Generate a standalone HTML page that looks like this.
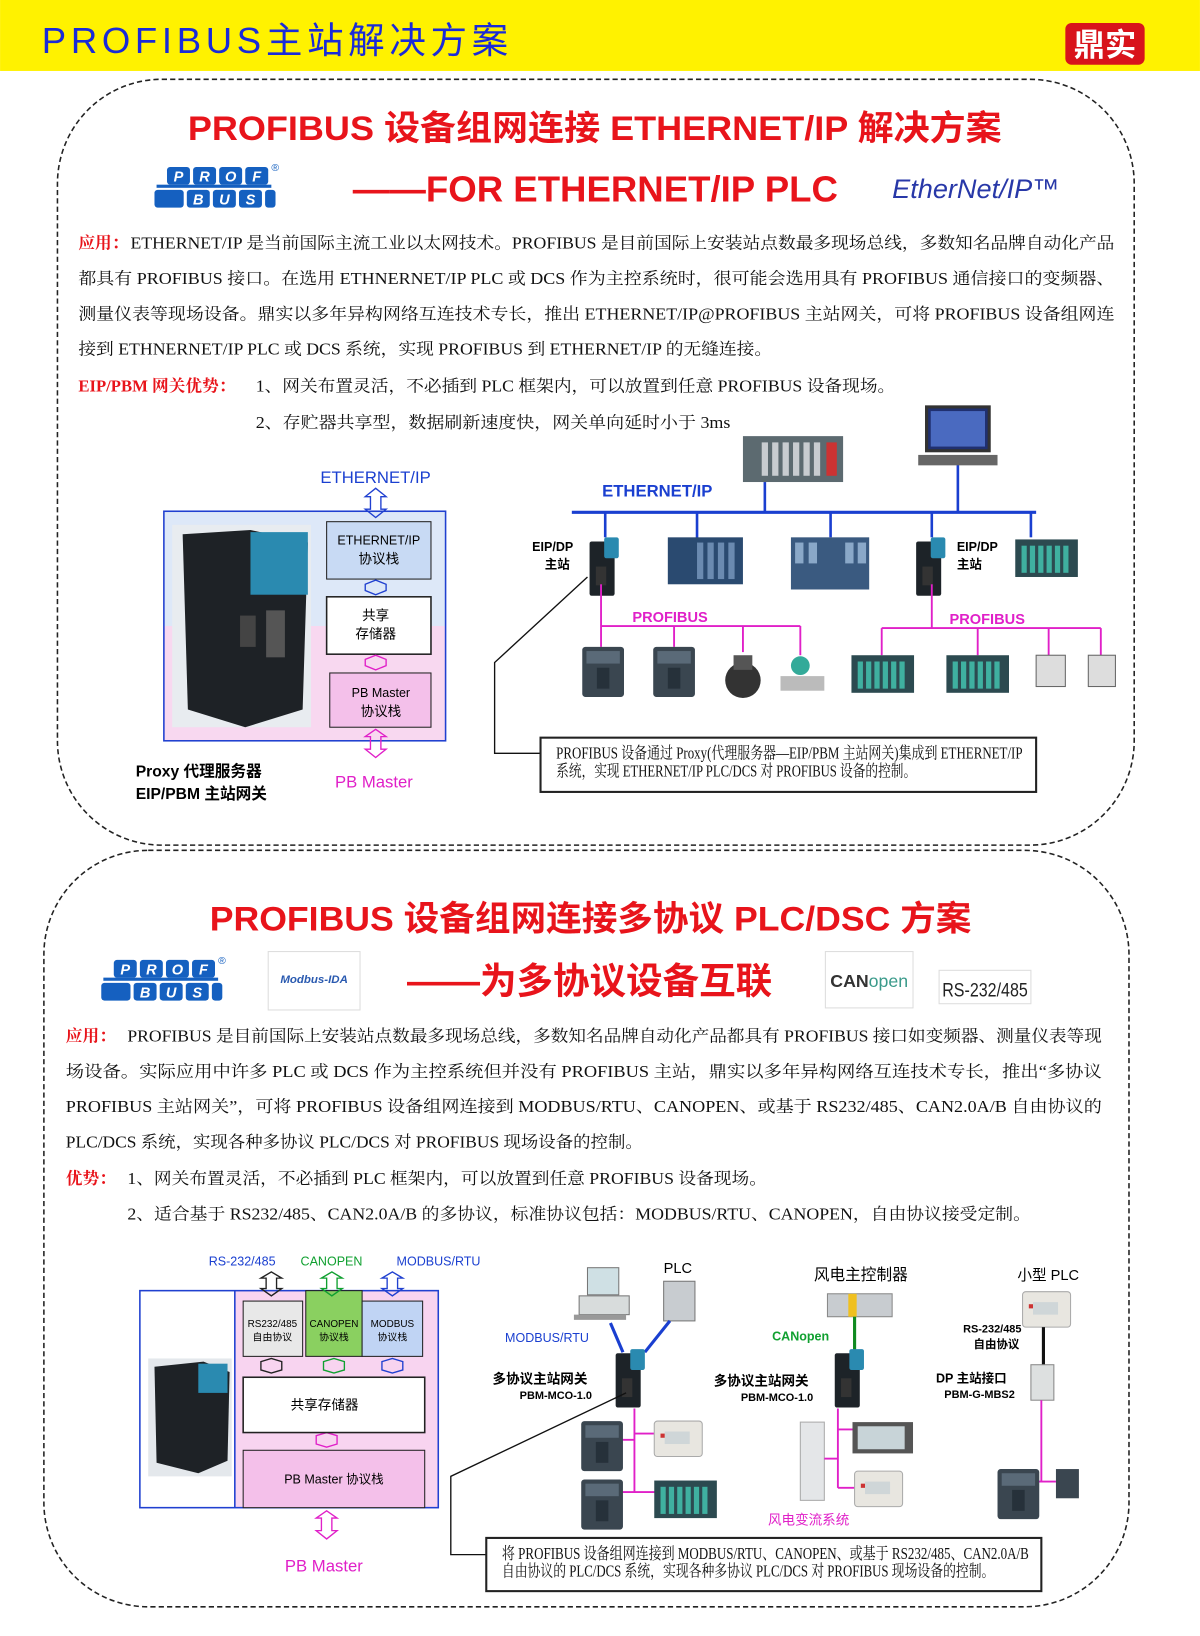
<!DOCTYPE html>
<html><head><meta charset="utf-8"><style>
html,body{margin:0;padding:0;background:#fff;width:1200px;height:1636px;overflow:hidden}
svg{display:block}
text{font-family:"Liberation Sans","Noto Sans CJK SC",sans-serif}
.s{font-family:"Liberation Serif","Noto Serif CJK SC",serif;font-size:16px;fill:#111}
.r{fill:#e8141b}
.b{fill:#1a3fd0}
.m{fill:#e020c8}
</style></head><body>
<svg width="1200" height="1636" viewBox="0 0 1150 1568" xmlns="http://www.w3.org/2000/svg">
<defs>
<g id="pb">
 <g fill="#1560c0">
  <rect x="12" y="4" width="22" height="17" rx="3"/><rect x="37" y="4" width="22" height="17" rx="3"/><rect x="62" y="4" width="22" height="17" rx="3"/><rect x="87" y="4" width="22" height="17" rx="3"/>
  <rect x="0" y="26" width="28" height="17" rx="3"/><rect x="31" y="26" width="22" height="17" rx="3"/><rect x="56" y="26" width="22" height="17" rx="3"/><rect x="81" y="26" width="22" height="17" rx="3"/><rect x="106" y="26" width="10" height="17" rx="3"/>
  <rect x="2" y="21" width="110" height="3"/>
 </g>
 <text x="23" y="18" fill="#fff" font-size="14" font-weight="bold" font-style="italic" text-anchor="middle">P</text>
 <text x="48" y="18" fill="#fff" font-size="14" font-weight="bold" font-style="italic" text-anchor="middle">R</text>
 <text x="73" y="18" fill="#fff" font-size="14" font-weight="bold" font-style="italic" text-anchor="middle">O</text>
 <text x="98" y="18" fill="#fff" font-size="14" font-weight="bold" font-style="italic" text-anchor="middle">F</text>
 <text x="42" y="40" fill="#fff" font-size="14" font-weight="bold" font-style="italic" text-anchor="middle">B</text>
 <text x="67" y="40" fill="#fff" font-size="14" font-weight="bold" font-style="italic" text-anchor="middle">U</text>
 <text x="92" y="40" fill="#fff" font-size="14" font-weight="bold" font-style="italic" text-anchor="middle">S</text>
 <text x="112" y="8" fill="#1560c0" font-size="10">®</text>
</g>
<g id="drv"><rect x="0" y="0" width="40" height="48" rx="3" fill="#3a4650"/><rect x="4" y="4" width="32" height="12" fill="#5a6a78"/><rect x="14" y="20" width="12" height="20" fill="#26313a"/></g>
<g id="rack"><rect x="0" y="0" width="60" height="36" fill="#2c4a50"/><g fill="#3fb0a0"><rect x="6" y="6" width="5" height="26"/><rect x="14" y="6" width="5" height="26"/><rect x="22" y="6" width="5" height="26"/><rect x="30" y="6" width="5" height="26"/><rect x="38" y="6" width="5" height="26"/><rect x="46" y="6" width="5" height="26"/></g></g>
<g id="gw"><rect x="0" y="4" width="24" height="52" rx="2" fill="#1d2328"/><rect x="14" y="0" width="14" height="20" rx="2" fill="#2a8ab0"/><rect x="6" y="28" width="10" height="18" fill="#333"/></g>
<g id="sp"><rect x="0" y="0" width="46" height="34" rx="3" fill="#e8e6e0" stroke="#aaa"/><rect x="10" y="10" width="24" height="12" fill="#cfd6d8"/><rect x="6" y="12" width="4" height="4" fill="#c33"/></g>
</defs>

<rect x="0" y="0" width="1150" height="68" fill="#fff200"/>
<text x="40" y="51" font-size="35" fill="#1a2bd8" textLength="447" lengthAdjust="spacing">PROFIBUS主站解决方案</text>
<rect x="1021" y="22" width="76" height="40" rx="6" fill="#d8141b"/>
<text x="1059" y="53" font-size="30" font-weight="bold" fill="#fff" text-anchor="middle">鼎实</text>

<rect x="55" y="76" width="1032" height="734" rx="100" fill="none" stroke="#222" stroke-width="1.5" stroke-dasharray="5,3"/>
<text x="180" y="134" font-size="33" font-weight="bold" class="r" textLength="780" lengthAdjust="spacingAndGlyphs">PROFIBUS 设备组网连接 ETHERNET/IP 解决方案</text>
<use href="#pb" x="148" y="156"/>
<text x="338" y="193" font-size="35" font-weight="bold" class="r" textLength="465" lengthAdjust="spacingAndGlyphs">——FOR ETHERNET/IP PLC</text>
<text x="855" y="190" font-size="26" font-style="italic" fill="#2838a8">EtherNet/IP™</text>

<text x="75" y="238" class="s"><tspan class="r" font-weight="bold">应用：</tspan></text>
<text x="125" y="238" class="s" textLength="943" lengthAdjust="spacingAndGlyphs">ETHERNET/IP 是当前国际主流工业以太网技术。PROFIBUS 是目前国际上安装站点数最多现场总线，多数知名品牌自动化产品</text>
<text x="75" y="272" class="s" textLength="993" lengthAdjust="spacingAndGlyphs">都具有 PROFIBUS 接口。在选用 ETHNERNET/IP PLC 或 DCS 作为主控系统时，很可能会选用具有 PROFIBUS 通信接口的变频器、</text>
<text x="75" y="306" class="s" textLength="993" lengthAdjust="spacingAndGlyphs">测量仪表等现场设备。鼎实以多年异构网络互连技术专长，推出 ETHERNET/IP@PROFIBUS 主站网关，可将 PROFIBUS 设备组网连</text>
<text x="75" y="340" class="s" textLength="665" lengthAdjust="spacingAndGlyphs">接到 ETHNERNET/IP PLC 或 DCS 系统，实现 PROFIBUS 到 ETHERNET/IP 的无缝连接。</text>
<text x="75" y="375" class="s r" font-weight="bold">EIP/PBM 网关优势：</text>
<text x="245" y="375" class="s" textLength="613" lengthAdjust="spacingAndGlyphs">1、网关布置灵活，不必插到 PLC 框架内，可以放置到任意 PROFIBUS 设备现场。</text>
<text x="245" y="410" class="s" textLength="455" lengthAdjust="spacingAndGlyphs">2、存贮器共享型，数据刷新速度快，网关单向延时小于 3ms</text>

<text x="307" y="463" font-size="16" class="b">ETHERNET/IP</text>
<rect x="157" y="490" width="270" height="110" fill="#dde8f8"/>
<rect x="157" y="600" width="270" height="110" fill="#f8d8f0"/>
<rect x="157" y="490" width="270" height="220" fill="none" stroke="#2040d0" stroke-width="1.5"/>
<rect x="165" y="503" width="133" height="194" fill="#e8ecf0"/>
<path d="M175 512 L240 508 L295 520 L290 680 L235 697 L180 680 Z" fill="#1e2226"/>
<rect x="240" y="510" width="55" height="60" fill="#2a8ab0"/>
<rect x="230" y="590" width="15" height="30" fill="#444"/><rect x="255" y="585" width="18" height="45" fill="#555"/>
<rect x="313" y="500" width="100" height="55" fill="#c8daf4" stroke="#222"/>
<text x="363" y="522" font-size="12" text-anchor="middle">ETHERNET/IP</text>
<text x="363" y="540" font-size="13" text-anchor="middle">协议栈</text>
<rect x="313" y="572" width="100" height="55" fill="#fff" stroke="#222" stroke-width="1.5"/>
<text x="360" y="594" font-size="13" text-anchor="middle">共享</text>
<text x="360" y="612" font-size="13" text-anchor="middle">存储器</text>
<rect x="316" y="645" width="97" height="52" fill="#f4c0ea" stroke="#222"/>
<text x="365" y="668" font-size="12" text-anchor="middle">PB Master</text>
<text x="365" y="686" font-size="13" text-anchor="middle">协议栈</text>
<g fill="none" stroke="#2040d0" stroke-width="1.3">
<path d="M350 476 l10 -8 l10 8 h-5 v12 h5 l-10 8 l-10 -8 h5 v-12z"/>
<path d="M350 560 l10 -4 l10 4 v6 l-10 4 l-10 -4z"/>
</g>
<g fill="none" stroke="#e020c8" stroke-width="1.3">
<path d="M350 632 l10 -4 l10 4 v6 l-10 4 l-10 -4z"/>
<path d="M350 706 l10 -7 l10 7 h-5 v12 h5 l-10 8 l-10 -8 h5 v-12z"/>
</g>
<text x="130" y="744" font-size="15" font-weight="bold">Proxy 代理服务器</text>
<text x="130" y="766" font-size="15" font-weight="bold">EIP/PBM 主站网关</text>
<text x="321" y="755" font-size="16" class="m">PB Master</text>

<text x="577" y="476" font-size="16" font-weight="bold" class="b">ETHERNET/IP</text>
<line x1="548" y1="491" x2="993" y2="491" stroke="#1a3fd0" stroke-width="3"/>
<g stroke="#1a3fd0" stroke-width="2.5"><line x1="580" y1="491" x2="580" y2="515"/><line x1="668" y1="491" x2="668" y2="518"/><line x1="733" y1="462" x2="733" y2="491"/><line x1="796" y1="491" x2="796" y2="515"/><line x1="893" y1="491" x2="893" y2="515"/><line x1="918" y1="440" x2="918" y2="491"/><line x1="988" y1="491" x2="988" y2="515"/></g>
<rect x="712" y="418" width="96" height="44" fill="#5c6a70"/><g fill="#c8ccd0"><rect x="730" y="424" width="6" height="32"/><rect x="740" y="424" width="6" height="32"/><rect x="750" y="424" width="6" height="32"/><rect x="760" y="424" width="6" height="32"/><rect x="770" y="424" width="6" height="32"/><rect x="780" y="424" width="6" height="32"/></g><rect x="792" y="424" width="10" height="32" fill="#c33"/>
<rect x="888" y="390" width="60" height="42" fill="#203070" stroke="#333" stroke-width="3"/><rect x="892" y="394" width="52" height="34" fill="#4a6ac0"/><rect x="880" y="436" width="76" height="10" fill="#666"/>
<use href="#gw" x="565" y="515"/><use href="#gw" x="878" y="515"/>
<text x="510" y="528" font-size="12" font-weight="bold">EIP/DP</text><text x="522" y="545" font-size="12" font-weight="bold">主站</text>
<text x="917" y="528" font-size="12" font-weight="bold">EIP/DP</text><text x="917" y="545" font-size="12" font-weight="bold">主站</text>
<rect x="640" y="515" width="72" height="45" fill="#2a4a70"/><g fill="#6a8ab0"><rect x="668" y="520" width="6" height="35"/><rect x="678" y="520" width="6" height="35"/><rect x="688" y="520" width="6" height="35"/><rect x="698" y="520" width="6" height="35"/></g>
<rect x="758" y="515" width="75" height="50" fill="#3a5a80"/><g fill="#8aa8c8"><rect x="762" y="520" width="8" height="20"/><rect x="775" y="520" width="8" height="20"/><rect x="810" y="520" width="8" height="20"/><rect x="822" y="520" width="8" height="20"/></g>
<use href="#rack" x="973" y="517"/>
<text x="606" y="596" font-size="14" font-weight="bold" class="m">PROFIBUS</text>
<text x="910" y="598" font-size="14" font-weight="bold" class="m">PROFIBUS</text>
<g stroke="#e020c8" stroke-width="1.8" fill="none">
<line x1="576" y1="560" x2="576" y2="620"/><line x1="576" y1="600" x2="767" y2="600"/><line x1="646" y1="600" x2="646" y2="620"/><line x1="712" y1="600" x2="712" y2="625"/><line x1="767" y1="600" x2="767" y2="628"/>
<line x1="893" y1="560" x2="893" y2="602"/><line x1="845" y1="602" x2="1055" y2="602"/><line x1="845" y1="602" x2="845" y2="628"/><line x1="937" y1="602" x2="937" y2="628"/><line x1="1005" y1="602" x2="1005" y2="628"/><line x1="1055" y1="602" x2="1055" y2="628"/>
</g>
<use href="#drv" x="558" y="620"/><use href="#drv" x="626" y="620"/>
<circle cx="712" cy="652" r="17" fill="#333"/><rect x="703" y="628" width="18" height="14" fill="#555"/>
<rect x="748" y="648" width="42" height="14" fill="#bbb"/><circle cx="767" cy="638" r="9" fill="#3a9"/>
<use href="#rack" x="816" y="628"/><use href="#rack" x="907" y="628"/>
<rect x="993" y="628" width="28" height="30" fill="#ddd" stroke="#666"/><rect x="1043" y="628" width="26" height="30" fill="#ddd" stroke="#666"/>
<polyline points="563,553 474,635 474,722 518,722" fill="none" stroke="#111" stroke-width="1.3"/>
<rect x="518" y="707" width="475" height="52" fill="#fff" stroke="#222" stroke-width="2"/>
<text x="533" y="727" class="s" font-size="11.5" textLength="447" lengthAdjust="spacingAndGlyphs">PROFIBUS 设备通过 Proxy(代理服务器—EIP/PBM 主站网关)集成到 ETHERNET/IP</text>
<text x="533" y="744" class="s" font-size="11.5" textLength="345" lengthAdjust="spacingAndGlyphs">系统，实现 ETHERNET/IP PLC/DCS 对 PROFIBUS 设备的控制。</text>

<rect x="42" y="815" width="1040" height="725" rx="100" fill="none" stroke="#222" stroke-width="1.5" stroke-dasharray="5,3"/>
<text x="201" y="892" font-size="33" font-weight="bold" class="r" textLength="730" lengthAdjust="spacingAndGlyphs">PROFIBUS 设备组网连接多协议 PLC/DSC 方案</text>
<use href="#pb" x="97" y="916"/>
<rect x="257" y="912" width="88" height="56" fill="#fff" stroke="#ddd"/>
<text x="301" y="942" font-size="11" font-weight="bold" font-style="italic" fill="#2a5ab0" text-anchor="middle">Modbus-IDA</text>
<text x="390" y="952" font-size="35" font-weight="bold" class="r" textLength="350" lengthAdjust="spacingAndGlyphs">——为多协议设备互联</text>
<rect x="791" y="912" width="84" height="54" fill="#fff" stroke="#ddd"/>
<text x="833" y="946" font-size="17" text-anchor="middle"><tspan font-weight="bold" fill="#333">CAN</tspan><tspan fill="#3a9a8a">open</tspan></text>
<rect x="900" y="930" width="88" height="32" fill="#fff" stroke="#ddd"/>
<text x="944" y="955" font-size="19" text-anchor="middle" fill="#222" textLength="82" lengthAdjust="spacingAndGlyphs">RS-232/485</text>

<text x="63" y="998" class="s r" font-weight="bold">应用：</text>
<text x="122" y="998" class="s" textLength="934" lengthAdjust="spacingAndGlyphs">PROFIBUS 是目前国际上安装站点数最多现场总线，多数知名品牌自动化产品都具有 PROFIBUS 接口如变频器、测量仪表等现</text>
<text x="63" y="1032" class="s" textLength="993" lengthAdjust="spacingAndGlyphs">场设备。实际应用中许多 PLC 或 DCS 作为主控系统但并没有 PROFIBUS 主站，鼎实以多年异构网络互连技术专长，推出“多协议</text>
<text x="63" y="1066" class="s" textLength="993" lengthAdjust="spacingAndGlyphs">PROFIBUS 主站网关”，可将 PROFIBUS 设备组网连接到 MODBUS/RTU、CANOPEN、或基于 RS232/485、CAN2.0A/B 自由协议的</text>
<text x="63" y="1100" class="s" textLength="553" lengthAdjust="spacingAndGlyphs">PLC/DCS 系统，实现各种多协议 PLC/DCS 对 PROFIBUS 现场设备的控制。</text>
<text x="63" y="1135" class="s r" font-weight="bold">优势：</text>
<text x="122" y="1135" class="s" textLength="613" lengthAdjust="spacingAndGlyphs">1、网关布置灵活，不必插到 PLC 框架内，可以放置到任意 PROFIBUS 设备现场。</text>
<text x="122" y="1169" class="s" textLength="866" lengthAdjust="spacingAndGlyphs">2、适合基于 RS232/485、CAN2.0A/B 的多协议，标准协议包括：MODBUS/RTU、CANOPEN，自由协议接受定制。</text>

<text x="200" y="1213" font-size="12" class="b">RS-232/485</text>
<text x="288" y="1213" font-size="12" fill="#10a030">CANOPEN</text>
<text x="380" y="1213" font-size="12" class="b">MODBUS/RTU</text>
<rect x="225" y="1237" width="195" height="208" fill="#f8d4f0"/>
<rect x="134" y="1237" width="286" height="208" fill="none" stroke="#2040d0" stroke-width="1.5"/>
<line x1="225" y1="1237" x2="225" y2="1445" stroke="#2040d0" stroke-width="1.5"/>
<rect x="142" y="1302" width="80" height="113" fill="#e4e8ec"/>
<path d="M148 1310 L195 1305 L220 1315 L218 1400 L190 1412 L150 1402Z" fill="#1e2226"/><rect x="190" y="1307" width="28" height="28" fill="#2a8ab0"/>
<rect x="233" y="1247" width="57" height="53" fill="#e8e8e8" stroke="#222"/>
<rect x="293" y="1237" width="54" height="63" fill="#8ad060" stroke="#222"/>
<rect x="347" y="1247" width="58" height="53" fill="#c0d4f4" stroke="#222"/>
<text x="261" y="1272" font-size="9.5" text-anchor="middle">RS232/485</text><text x="261" y="1285" font-size="9.5" text-anchor="middle">自由协议</text>
<text x="320" y="1272" font-size="9.5" text-anchor="middle">CANOPEN</text><text x="320" y="1285" font-size="9.5" text-anchor="middle">协议栈</text>
<text x="376" y="1272" font-size="9.5" text-anchor="middle">MODBUS</text><text x="376" y="1285" font-size="9.5" text-anchor="middle">协议栈</text>
<g fill="none" stroke-width="1.3">
<path d="M250 1225 l10 -6 l10 6 h-5 v10 h5 l-10 7 l-10 -7 h5 v-10z" stroke="#222"/>
<path d="M308 1225 l10 -6 l10 6 h-5 v10 h5 l-10 7 l-10 -7 h5 v-10z" stroke="#10a030"/>
<path d="M366 1225 l10 -6 l10 6 h-5 v10 h5 l-10 7 l-10 -7 h5 v-10z" stroke="#2040d0"/>
<path d="M250 1305 l10 -3 l10 3 v8 l-10 3 l-10 -3z" stroke="#222"/>
<path d="M310 1305 l10 -3 l10 3 v8 l-10 3 l-10 -3z" stroke="#10a030"/>
<path d="M366 1305 l10 -3 l10 3 v8 l-10 3 l-10 -3z" stroke="#2040d0"/>
<path d="M303 1376 l10 -3 l10 3 v8 l-10 3 l-10 -3z" stroke="#e020c8"/>
<path d="M303 1455 l10 -7 l10 7 h-5 v12 h5 l-10 8 l-10 -8 h5 v-12z" stroke="#e020c8"/>
</g>
<rect x="233" y="1320" width="174" height="53" fill="#fff" stroke="#222" stroke-width="1.5"/>
<text x="311" y="1351" font-size="13" text-anchor="middle">共享存储器</text>
<rect x="233" y="1390" width="174" height="55" fill="#f4c0ea" stroke="#222"/>
<text x="320" y="1422" font-size="12" text-anchor="middle">PB Master 协议栈</text>
<text x="273" y="1506" font-size="16" class="m">PB Master</text>

<rect x="563" y="1215" width="30" height="26" fill="#cfe0e4" stroke="#777"/><rect x="555" y="1242" width="48" height="18" fill="#d8dcdc" stroke="#777"/><rect x="550" y="1260" width="50" height="5" fill="#999"/>
<rect x="636" y="1228" width="30" height="38" fill="#c8ccd0" stroke="#777"/>
<text x="636" y="1220" font-size="14">PLC</text>
<text x="484" y="1286" font-size="12" class="b">MODBUS/RTU</text>
<g stroke="#1a3fd0" stroke-width="3"><line x1="585" y1="1268" x2="597" y2="1296"/><line x1="642" y1="1266" x2="618" y2="1296"/></g>
<use href="#gw" x="590" y="1293"/>
<text x="472" y="1326" font-size="13" font-weight="bold">多协议主站网关</text>
<text x="498" y="1341" font-size="10.5" font-weight="bold">PBM-MCO-1.0</text>
<g stroke="#e020c8" stroke-width="1.8" fill="none"><line x1="608" y1="1350" x2="608" y2="1430"/><line x1="592" y1="1380" x2="608" y2="1380"/><line x1="608" y1="1374" x2="628" y2="1374"/><line x1="592" y1="1430" x2="628" y2="1430"/></g>
<use href="#drv" x="557" y="1362"/><use href="#drv" x="557" y="1418"/>
<use href="#sp" x="627" y="1362"/><use href="#rack" x="627" y="1419"/>
<text x="780" y="1227" font-size="15">风电主控制器</text>
<rect x="793" y="1240" width="62" height="22" fill="#c8ccd0" stroke="#888"/><rect x="813" y="1240" width="8" height="22" fill="#f0c020"/>
<text x="740" y="1285" font-size="12" fill="#10a030" font-weight="bold">CANopen</text>
<line x1="819" y1="1262" x2="819" y2="1295" stroke="#108a20" stroke-width="3"/>
<use href="#gw" x="800" y="1293"/>
<text x="684" y="1328" font-size="13" font-weight="bold">多协议主站网关</text>
<text x="710" y="1343" font-size="10.5" font-weight="bold">PBM-MCO-1.0</text>
<rect x="767" y="1363" width="23" height="75" fill="#e4e6e8" stroke="#aaa"/>
<g stroke="#e020c8" stroke-width="1.8" fill="none"><line x1="803" y1="1350" x2="803" y2="1426"/><line x1="803" y1="1370" x2="820" y2="1370"/><line x1="790" y1="1398" x2="803" y2="1398"/><line x1="803" y1="1426" x2="820" y2="1426"/></g>
<rect x="817" y="1363" width="58" height="30" fill="#555"/><rect x="822" y="1367" width="45" height="22" fill="#c8d4d8"/>
<use href="#sp" x="819" y="1410"/>
<text x="736" y="1461" font-size="13" class="m">风电变流系统</text>
<text x="975" y="1227" font-size="14">小型 PLC</text>
<use href="#sp" x="980" y="1238"/>
<text x="923" y="1277" font-size="10.5" font-weight="bold">RS-232/485</text><text x="933" y="1292" font-size="11" font-weight="bold">自由协议</text>
<line x1="1000" y1="1272" x2="1000" y2="1308" stroke="#111" stroke-width="3"/>
<text x="897" y="1325" font-size="12" font-weight="bold">DP 主站接口</text><text x="905" y="1340" font-size="10.5" font-weight="bold">PBM-G-MBS2</text>
<rect x="988" y="1308" width="22" height="34" fill="#dde0e0" stroke="#888"/>
<g stroke="#e020c8" stroke-width="1.8" fill="none"><line x1="998" y1="1342" x2="998" y2="1420"/><line x1="980" y1="1420" x2="1012" y2="1420"/></g>
<use href="#drv" x="956" y="1408"/><rect x="1012" y="1408" width="22" height="28" fill="#3a4650"/>
<polyline points="600,1335 432,1415 432,1490 466,1490" fill="none" stroke="#111" stroke-width="1.3"/>
<rect x="466" y="1474" width="532" height="51" fill="#fff" stroke="#222" stroke-width="2"/>
<text x="481" y="1494" class="s" font-size="11.5" textLength="505" lengthAdjust="spacingAndGlyphs">将 PROFIBUS 设备组网连接到 MODBUS/RTU、CANOPEN、或基于 RS232/485、CAN2.0A/B</text>
<text x="481" y="1511" class="s" font-size="11.5" textLength="472" lengthAdjust="spacingAndGlyphs">自由协议的 PLC/DCS 系统，实现各种多协议 PLC/DCS 对 PROFIBUS 现场设备的控制。</text>
</svg>
</body></html>
